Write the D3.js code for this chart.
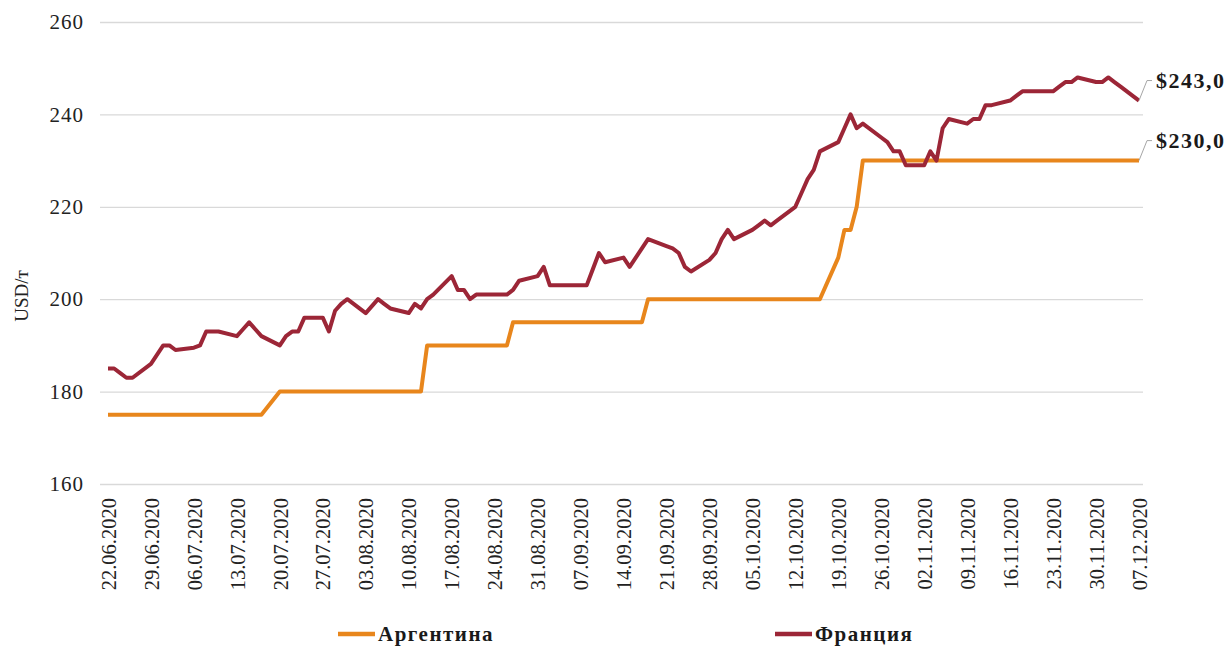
<!DOCTYPE html>
<html>
<head>
<meta charset="utf-8">
<script src="https://cdn.jsdelivr.net/npm/d3@7"></script>
<style>
  body { margin: 0; background: #fff; }
  svg { display: block; font-family: "Liberation Serif", "Times New Roman", serif; }
</style>
</head>
<body>
<div id="chart"></div>
<script>
// Франция: дневные цены (рабочие дни)
const franceDates = [
  "22.06.2020","23.06.2020","24.06.2020","25.06.2020","26.06.2020",
  "29.06.2020","30.06.2020","01.07.2020","02.07.2020","03.07.2020",
  "06.07.2020","07.07.2020","08.07.2020","09.07.2020","10.07.2020",
  "13.07.2020","14.07.2020","15.07.2020","16.07.2020","17.07.2020",
  "20.07.2020","21.07.2020","22.07.2020","23.07.2020","24.07.2020",
  "27.07.2020","28.07.2020","29.07.2020","30.07.2020","31.07.2020",
  "03.08.2020","04.08.2020","05.08.2020","06.08.2020","07.08.2020",
  "10.08.2020","11.08.2020","12.08.2020","13.08.2020","14.08.2020",
  "17.08.2020","18.08.2020","19.08.2020","20.08.2020","21.08.2020",
  "24.08.2020","25.08.2020","26.08.2020","27.08.2020","28.08.2020",
  "31.08.2020","01.09.2020","02.09.2020","03.09.2020","04.09.2020",
  "07.09.2020","08.09.2020","09.09.2020","10.09.2020","11.09.2020",
  "14.09.2020","15.09.2020","16.09.2020","17.09.2020","18.09.2020",
  "21.09.2020","22.09.2020","23.09.2020","24.09.2020","25.09.2020",
  "28.09.2020","29.09.2020","30.09.2020","01.10.2020","02.10.2020",
  "05.10.2020","06.10.2020","07.10.2020","08.10.2020","09.10.2020",
  "12.10.2020","13.10.2020","14.10.2020","15.10.2020","16.10.2020",
  "19.10.2020","20.10.2020","21.10.2020","22.10.2020","23.10.2020",
  "26.10.2020","27.10.2020","28.10.2020","29.10.2020","30.10.2020",
  "02.11.2020","03.11.2020","04.11.2020","05.11.2020","06.11.2020",
  "09.11.2020","10.11.2020","11.11.2020","12.11.2020","13.11.2020",
  "16.11.2020","17.11.2020","18.11.2020","19.11.2020","20.11.2020",
  "23.11.2020","24.11.2020","25.11.2020","26.11.2020","27.11.2020",
  "30.11.2020","01.12.2020","02.12.2020","03.12.2020","04.12.2020",
  "07.12.2020"
];
const franceValues = [
  185, 185, 184, 183, 183,
  186, 188, 190, 190, 189,
  189.5, 190, 193, 193, 193,
  192, 193.5, 195, 193.5, 192,
  190, 192, 193, 193, 196,
  196, 193, 197.5, 199, 200,
  197, 198.5, 200, 199, 198,
  197, 199, 198, 200, 201,
  205, 202, 202, 200, 201,
  201, 201, 201, 202, 204,
  205, 207, 203, 203, 203,
  203, 203, 206.5, 210, 208,
  209, 207, 209, 211, 213,
  211.5, 211, 210, 207, 206,
  208.5, 210, 213, 215, 213,
  215, 216, 217, 216, 217,
  220, 223, 226, 228, 232,
  234, 237, 240, 237, 238,
  235, 234, 232, 232, 229,
  229, 232, 230, 237, 239,
  238, 239, 239, 242, 242,
  243, 244, 245, 245, 245,
  245, 246, 247, 247, 248,
  247, 247, 248, 247, 246,
  243
];

// Аргентина: цена меняется ступенями, даны точки изменения
const argentinaDates = [
  "22.06.2020","17.07.2020","20.07.2020","12.08.2020","13.08.2020",
  "26.08.2020","27.08.2020","17.09.2020","18.09.2020","16.10.2020",
  "19.10.2020","20.10.2020","21.10.2020","22.10.2020","23.10.2020",
  "07.12.2020"
];
const argentinaValues = [
  175, 175, 180, 180, 190,
  190, 195, 195, 200, 200,
  209, 215, 215, 220, 230,
  230
];

const yTicks = [160, 180, 200, 220, 240, 260];
const xTickLabels = [
  "22.06.2020","29.06.2020","06.07.2020","13.07.2020","20.07.2020",
  "27.07.2020","03.08.2020","10.08.2020","17.08.2020","24.08.2020",
  "31.08.2020","07.09.2020","14.09.2020","21.09.2020","28.09.2020",
  "05.10.2020","12.10.2020","19.10.2020","26.10.2020","02.11.2020",
  "09.11.2020","16.11.2020","23.11.2020","30.11.2020","07.12.2020"
];
const seriesNames = ["Аргентина", "Франция"];
const colors = ["#E8861C", "#9C2637"];

const parseDate = d3.timeParse("%d.%m.%Y");
const fmtDate = d3.timeFormat("%d.%m.%Y");
const serif = "'Liberation Serif', 'Times New Roman', serif";

const width = 1229, height = 646;
const svg = d3.select("#chart").append("svg")
  .attr("width", width)
  .attr("height", height);

const x = d3.scaleTime()
  .domain([parseDate("22.06.2020"), parseDate("07.12.2020")])
  .range([108, 1139]);
const y = d3.scaleLinear()
  .domain([160, 260])
  .range([484, 22]);

// grid + y labels
const yAxis = svg.append("g")
  .attr("transform", "translate(100,0)")
  .call(d3.axisLeft(y).tickValues(yTicks).tickSize(-1043).tickPadding(16))
  .attr("font-family", serif)
  .attr("font-size", 21);
yAxis.select(".domain").remove();
yAxis.selectAll("line").attr("stroke", "#d9d9d9").attr("stroke-width", 1.3);
yAxis.selectAll("text")
  .attr("fill", "#222")
  .style("letter-spacing", "1px");

// x labels
const xAxis = svg.append("g")
  .attr("transform", `translate(0,${y(160)})`)
  .call(d3.axisBottom(x).tickValues(xTickLabels.map(parseDate)).tickSize(0).tickFormat(fmtDate))
  .attr("font-family", serif)
  .attr("font-size", 20.5);
xAxis.select(".domain").remove();
xAxis.selectAll("text")
  .attr("fill", "#222")
  .attr("text-anchor", "end")
  .attr("transform", "rotate(-90)")
  .attr("x", -14)
  .attr("y", 0)
  .attr("dy", "0.35em");

// y title
svg.append("text")
  .attr("transform", "translate(21,296) rotate(-90)")
  .attr("text-anchor", "middle")
  .attr("dy", "0.35em")
  .style("font-size", "19px")
  .attr("fill", "#222")
  .text("USD/т");

const line = d3.line()
  .x(d => x(d.date))
  .y(d => y(d.value));

const argentina = argentinaDates.map((d, i) => ({ date: parseDate(d), value: argentinaValues[i] }));
const france = franceDates.map((d, i) => ({ date: parseDate(d), value: franceValues[i] }));
const series = [argentina, france];

series.forEach((data, i) => {
  svg.append("path")
    .datum(data)
    .attr("fill", "none")
    .attr("stroke", colors[i])
    .attr("stroke-width", 4)
    .attr("stroke-linejoin", "round")
    .attr("d", line);
});

// end labels with leader lines
series.forEach((data) => {
  const last = data[data.length - 1];
  const lx = x(last.date), ly = y(last.value);
  svg.append("path")
    .attr("fill", "none")
    .attr("stroke", "#a6a6a6")
    .attr("stroke-width", 1)
    .attr("d", `M${lx},${ly} L${lx + 8},${ly - 20} L${lx + 13},${ly - 20}`);
  svg.append("text")
    .attr("x", lx + 17)
    .attr("y", ly - 20)
    .attr("dy", "0.35em")
    .style("font-size", "22px")
    .style("font-weight", "bold")
    .style("letter-spacing", "1.5px")
    .attr("fill", "#1a1a1a")
    .text("$" + d3.format(".1f")(last.value).replace(".", ","));
});

// legend
const legendX = [338, 775];
seriesNames.forEach((name, i) => {
  const g = svg.append("g").attr("transform", `translate(${legendX[i]},634)`);
  g.append("line")
    .attr("x1", 0).attr("x2", 37)
    .attr("stroke", colors[i])
    .attr("stroke-width", 4.5);
  g.append("text")
    .attr("x", 40)
    .attr("dy", "0.35em")
    .style("font-size", "21px")
    .style("font-weight", "bold")
    .style("letter-spacing", "1.5px")
    .attr("fill", "#1a1a1a")
    .text(name);
});
</script>
</body>
</html>
